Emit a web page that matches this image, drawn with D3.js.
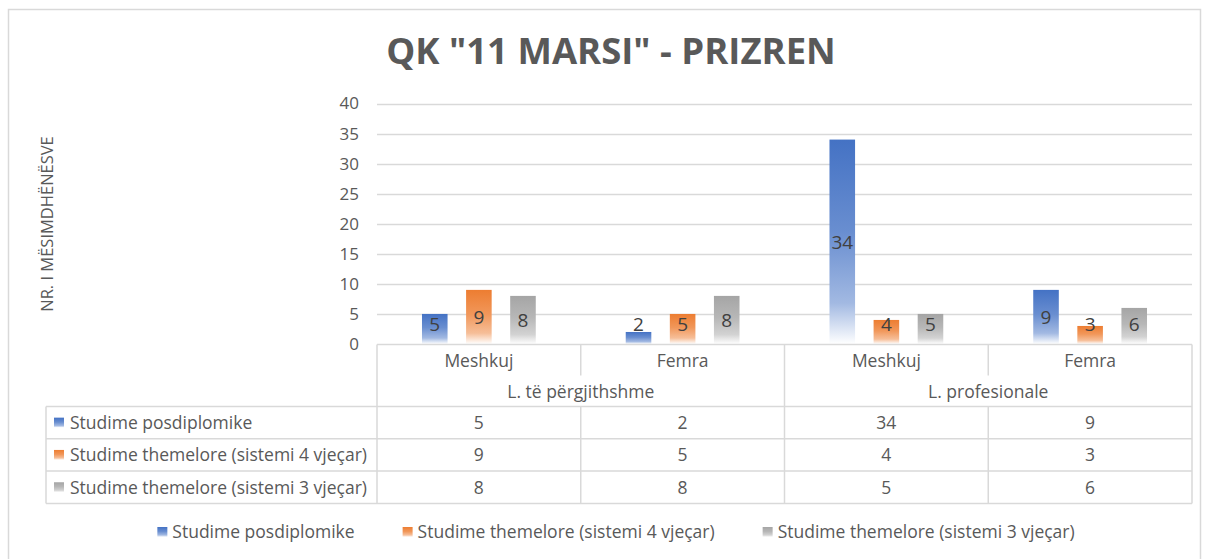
<!DOCTYPE html>
<html>
<head>
<meta charset="utf-8">
<script src="https://cdnjs.cloudflare.com/ajax/libs/d3/7.8.5/d3.min.js"></script>
<style>
  body { margin: 0; background: #fff; }
  text { font-family: "Open Sans", sans-serif; fill: #595959; }
</style>
</head>
<body>
<svg id="chart" width="1205" height="559"></svg>
<script>
// data
var categories = ["Meshkuj", "Femra", "Meshkuj", "Femra"];
var groups = ["L. të përgjithshme", "L. profesionale"];
var seriesNames = [
    "Studime posdiplomike",
    "Studime themelore (sistemi 4 vjeçar)",
    "Studime themelore (sistemi 3 vjeçar)"
];
var posdiplomike = [5, 2, 34, 9];
var themelore4 = [9, 5, 4, 3];
var themelore3 = [8, 8, 5, 6];
var yTicks = [0, 5, 10, 15, 20, 25, 30, 35, 40];

var seriesValues = [posdiplomike, themelore4, themelore3];
var colors = ["#4472C4", "#ED7D31", "#A5A5A5"];
var fs = "17.5px";

var svg = d3.select("#chart");

// outer chart border
svg.append("rect")
    .attr("x", 8.5).attr("y", 9.5)
    .attr("width", 1192).attr("height", 600)
    .attr("fill", "none")
    .attr("stroke", "#d9d9d9")
    .attr("stroke-width", 1.5);

// gradients, solid on top and fading to white at the bottom
var defs = svg.append("defs");
colors.forEach(function(c, i) {
    var g = defs.append("linearGradient")
        .attr("id", "grad" + i)
        .attr("x1", 0).attr("y1", 0).attr("x2", 0).attr("y2", 1);
    g.append("stop").attr("offset", "0%").attr("stop-color", c);
    g.append("stop").attr("offset", "45%").attr("stop-color", d3.interpolateRgb(c, "#fff")(0.2));
    g.append("stop").attr("offset", "80%").attr("stop-color", d3.interpolateRgb(c, "#fff")(0.5));
    g.append("stop").attr("offset", "100%").attr("stop-color", "#fff");
});

var left = 377, right = 1192;
var x = d3.scaleBand()
    .domain(d3.range(categories.length))
    .range([left, right]);

var xs = d3.scaleBand()
    .domain(d3.range(seriesNames.length))
    .range([0, x.bandwidth()])
    .paddingInner(0.42)
    .paddingOuter(1.02);

var y = d3.scaleLinear()
    .domain([0, 40])
    .range([344, 103.5]);

// title
svg.append("text")
    .attr("x", 611).attr("y", 64)
    .attr("text-anchor", "middle")
    .style("font-size", "36.5px")
    .style("font-weight", "bold")
    .text('QK "11 MARSI" - PRIZREN');

// gridlines
svg.append("g")
    .selectAll("line")
    .data(yTicks.filter(function(d) { return d > 0; }))
    .enter().append("line")
    .attr("x1", left).attr("x2", right)
    .attr("y1", function(d) { return Math.round(y(d)) + 0.5; })
    .attr("y2", function(d) { return Math.round(y(d)) + 0.5; })
    .attr("stroke", "#d9d9d9")
    .attr("stroke-width", 1.5);

// y axis labels
var yAxis = svg.append("g")
    .attr("transform", "translate(" + (left - 7) + ",0)")
    .call(d3.axisLeft(y).tickValues(yTicks).tickSize(0).tickPadding(11));
yAxis.select(".domain").remove();
yAxis.selectAll("text")
    .style("font-size", "17px")
    .style("font-family", "'Open Sans', sans-serif")
    .attr("fill", "#595959");

// y axis title
svg.append("text")
    .attr("transform", "translate(53,224) rotate(-90)")
    .attr("text-anchor", "middle")
    .style("font-size", "16.5px")
    .text("NR. I MËSIMDHËNËSVE");

// bars
var cat = svg.selectAll("g.cat")
    .data(categories)
    .enter().append("g")
    .attr("class", "cat")
    .attr("transform", function(d, i) { return "translate(" + x(i) + ",0)"; });

var bar = cat.selectAll("g.bar")
    .data(function(d, i) {
        return seriesValues.map(function(s, j) { return { s: j, v: s[i] }; });
    })
    .enter().append("g")
    .attr("class", "bar");

bar.append("rect")
    .attr("x", function(d) { return xs(d.s); })
    .attr("width", xs.bandwidth())
    .attr("y", function(d) { return y(d.v); })
    .attr("height", function(d) { return y(0) - y(d.v); })
    .attr("fill", function(d) { return "url(#grad" + d.s + ")"; });

bar.append("text")
    .attr("x", function(d) { return xs(d.s) + xs.bandwidth() / 2; })
    .attr("y", function(d) { return Math.min((y(d.v) + y(0)) / 2, y(0) - 20); })
    .attr("dy", "0.36em")
    .attr("text-anchor", "middle")
    .style("font-size", "19px")
    .style("fill", "#404040")
    .text(function(d) { return d.v; });

// data table
var tbl = svg.append("g")
    .attr("stroke", "#d9d9d9")
    .attr("stroke-width", 1.5);
var topY = y(0) + 0.5;
var rowTop = 406.5, rowH = 32.3, tableLeft = 46;
var bottomY = rowTop + rowH * seriesNames.length;

function hline(x1, x2, yy) {
    tbl.append("line").attr("x1", x1).attr("x2", x2).attr("y1", yy).attr("y2", yy);
}
function vline(xx, y1, y2) {
    tbl.append("line").attr("x1", xx).attr("x2", xx).attr("y1", y1).attr("y2", y2);
}

hline(left, right, topY);
for (var r = 0; r <= seriesNames.length; r++) {
    hline(tableLeft, right, rowTop + rowH * r);
}
vline(tableLeft, rowTop, bottomY);
vline(left, topY, bottomY);
vline(right, topY, bottomY);
categories.forEach(function(c, i) {
    if (i === 0) return;
    if (i % 2 === 0) vline(x(i), topY, bottomY);
    else {
        vline(x(i), topY, topY + 31);
        vline(x(i), rowTop, bottomY);
    }
});

// category labels
svg.selectAll("text.catlabel")
    .data(categories)
    .enter().append("text")
    .attr("class", "catlabel")
    .attr("x", function(d, i) { return x(i) + x.bandwidth() / 2; })
    .attr("y", 360.5)
    .attr("dy", "0.36em")
    .attr("text-anchor", "middle")
    .style("font-size", fs)
    .text(function(d) { return d; });

svg.selectAll("text.grouplabel")
    .data(groups)
    .enter().append("text")
    .attr("class", "grouplabel")
    .attr("x", function(d, i) { return x(i * 2) + x.bandwidth(); })
    .attr("y", 391.5)
    .attr("dy", "0.36em")
    .attr("text-anchor", "middle")
    .style("font-size", fs)
    .text(function(d) { return d; });

// table rows
var row = svg.selectAll("g.row")
    .data(seriesNames)
    .enter().append("g")
    .attr("class", "row")
    .attr("transform", function(d, i) { return "translate(0," + (rowTop + rowH * i + rowH / 2) + ")"; });

row.append("rect")
    .attr("x", 54).attr("y", -5)
    .attr("width", 10).attr("height", 10)
    .attr("fill", function(d, i) { return "url(#grad" + i + ")"; });

row.append("text")
    .attr("x", 70)
    .attr("dy", "0.36em")
    .style("font-size", fs)
    .text(function(d) { return d; });

row.selectAll("text.val")
    .data(function(d, i) { return seriesValues[i]; })
    .enter().append("text")
    .attr("class", "val")
    .attr("x", function(d, i) { return x(i) + x.bandwidth() / 2; })
    .attr("dy", "0.36em")
    .attr("text-anchor", "middle")
    .style("font-size", fs)
    .text(function(d) { return d; });

// legend
var legend = svg.append("g").attr("transform", "translate(0,532)");
var items = legend.selectAll("g")
    .data(seriesNames)
    .enter().append("g");
items.append("rect")
    .attr("y", -5).attr("width", 10).attr("height", 10)
    .attr("fill", function(d, i) { return "url(#grad" + i + ")"; });
items.append("text")
    .attr("x", 15)
    .attr("dy", "0.36em")
    .style("font-size", fs)
    .text(function(d) { return d; });

var widths = [];
items.each(function() { widths.push(this.getBBox().width); });
var gap = 48;
var total = d3.sum(widths) + gap * (widths.length - 1);
var cx = 616 - total / 2;
items.attr("transform", function(d, i) {
    var pos = cx + d3.sum(widths.slice(0, i)) + gap * i;
    return "translate(" + pos + ",0)";
});
</script>
</body>
</html>
